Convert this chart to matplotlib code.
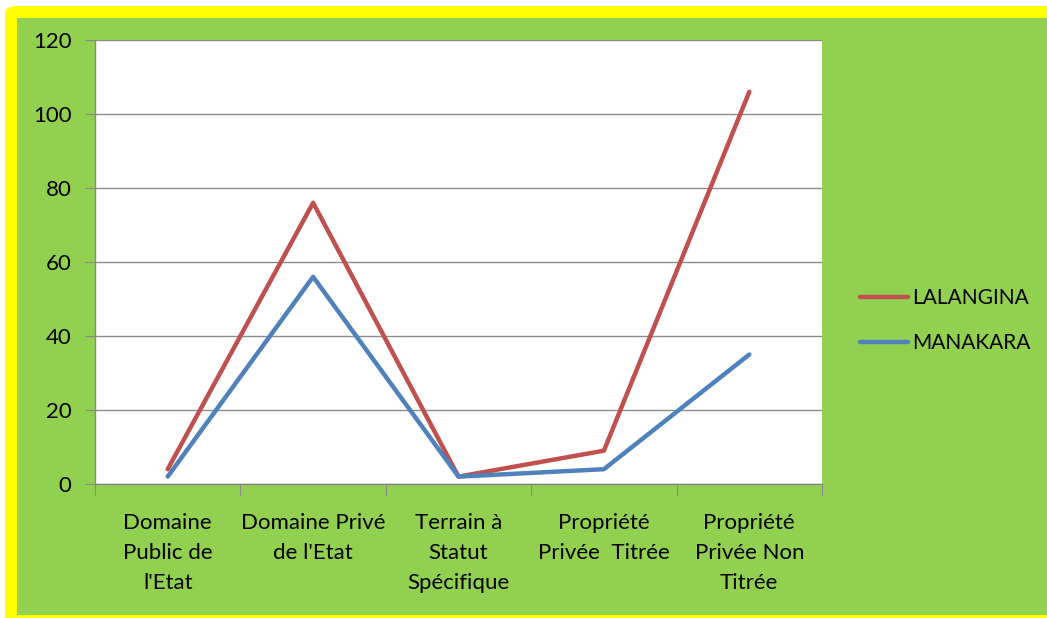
import matplotlib
matplotlib.use("Agg")
import matplotlib.pyplot as plt
from matplotlib.patches import FancyBboxPatch, Rectangle
import numpy as np

categories = ["Domaine\nPublic de\nl'Etat", "Domaine Privé\nde l'Etat", "Terrain à\nStatut\nSpécifique",
              "Propriété\nPrivée  Titrée", "Propriété\nPrivée Non\nTitrée"]
lalangina = [4, 76, 2, 9, 106]
manakara = [2, 56, 2, 4, 35]
yticks = [0, 20, 40, 60, 80, 100, 120]

plt.rcParams['font.family'] = ['Lato', 'DejaVu Sans']

W, H = 1047, 618
fig = plt.figure(figsize=(W/100, H/100), dpi=100)
fig.patch.set_facecolor('white')

def fx(x): return x / W
def fy(y): return 1 - y / H

# yellow frame
fig.patches.append(FancyBboxPatch((fx(5), fy(640)), fx(1100), (640 - 6) / H,
                                  boxstyle="round,pad=0,rounding_size=0.012",
                                  transform=fig.transFigure, facecolor='#FFFF00',
                                  edgecolor='none', zorder=-10))
fig.patches.append(Rectangle((fx(17), fy(615)), fx(1100), (615 - 18) / H,
                             transform=fig.transFigure, facecolor='#92D050',
                             edgecolor='none', zorder=-9))

ax = fig.add_axes([fx(95), fy(484), (822 - 95) / W, (484 - 40) / H])
ax.set_facecolor('white')
x = np.arange(len(categories))
ax.plot(x, lalangina, color='#C0504D', lw=3.2, label='LALANGINA', solid_capstyle='round', zorder=3)
ax.plot(x, manakara, color='#4F81BD', lw=3.2, label='MANAKARA', solid_capstyle='round', zorder=3)

ax.set_xlim(-0.5, len(categories) - 0.5)
ax.set_ylim(0, 120)
ax.set_yticks(yticks)
ax.set_yticklabels([str(v) for v in yticks], fontsize=16)
ax.set_xticks(np.arange(-0.5, len(categories), 1.0))
ax.set_xticklabels([])
ax.set_xticks(x, minor=True)
ax.set_xticklabels(categories, minor=True, fontsize=16, linespacing=1.63)
ax.tick_params(axis='x', which='minor', length=0, pad=21)
ax.tick_params(axis='x', which='major', length=8, color='#888888', direction='out')
ax.tick_params(axis='y', length=7, color='#888888', pad=10)
ax.grid(axis='y', color='#8C8C8C', lw=1)
ax.set_axisbelow(True)
for s in ['top', 'right']:
    ax.spines[s].set_visible(False)
for s in ['left', 'bottom']:
    ax.spines[s].set_color('#888888')
    ax.spines[s].set_linewidth(1)

fig.legend(loc='upper left', bbox_to_anchor=(fx(852), fy(280)), frameon=False,
           fontsize=15, handlelength=2.3, handletextpad=0.2, labelspacing=1.2,
           borderaxespad=0)

fig.savefig('out.png', dpi=100, facecolor='white')
